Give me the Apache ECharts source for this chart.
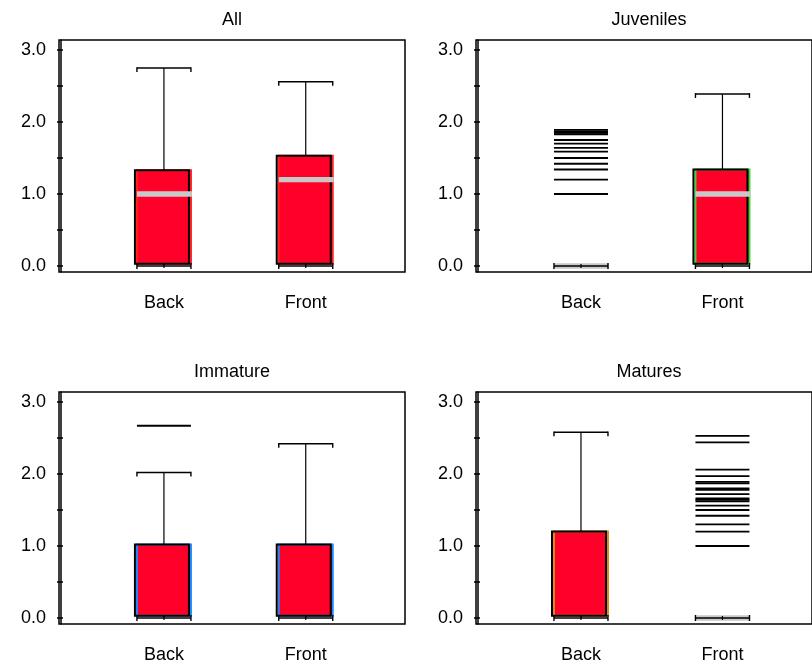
<!DOCTYPE html>
<html>
<head>
<meta charset="utf-8">
<script src="https://cdn.jsdelivr.net/npm/echarts@6/dist/echarts.min.js"></script>
<style>
html,body{margin:0;padding:0;background:#fff;}
#chart{width:812px;height:665px;}
</style>
</head>
<body>
<div id="chart"></div>
<script>
// ---------- data ----------
const categories = ['Back', 'Front'];
const panelTitles = ['All', 'Juveniles', 'Immature', 'Matures'];
const yLabelTicks = [0, 1, 2, 3];
const yMinorTicks = [0, 0.5, 1, 1.5, 2, 2.5, 3];

// All
const allLow = [0, 0];
const allQ1 = [0.03, 0.03];
const allMedian = [1.0, 1.2];
const allQ3 = [1.33, 1.53];
const allHigh = [2.75, 2.56];
const allOutBack = [];
const allOutFront = [];

// Juveniles
const juvLow = [0, 0];
const juvQ1 = [0, 0.03];
const juvMedian = [0, 1.0];
const juvQ3 = [0, 1.34];
const juvHigh = [0, 2.39];
const juvOutBack = [1.0, 1.2, 1.34, 1.42, 1.5, 1.59, 1.64, 1.7, 1.75, 1.83, 1.85, 1.87, 1.89];
const juvOutFront = [];

// Immature
const immLow = [0, 0];
const immQ1 = [0.03, 0.03];
const immMedian = [null, null];
const immQ3 = [1.02, 1.02];
const immHigh = [2.02, 2.42];
const immOutBack = [2.67];
const immOutFront = [];

// Matures
const matLow = [0, 0];
const matQ1 = [0.03, 0];
const matMedian = [null, 0];
const matQ3 = [1.2, 0];
const matHigh = [2.58, 0];
const matOutBack = [];
const matOutFront = [1.0, 1.2, 1.3, 1.42, 1.5, 1.56, 1.62, 1.64, 1.66, 1.72, 1.78, 1.8, 1.87, 1.89, 1.97, 2.06, 2.44, 2.53];

// ---------- styles / layout ----------
const FONT = '"Liberation Sans", Arial, sans-serif';
const FS = 18;
const BOX_RED = '#FF0029';
const MEDIAN_GREY = '#C8C8C8';
const panels = [
  {title: panelTitles[0], low: allLow, q1: allQ1, med: allMedian, q3: allQ3, high: allHigh, out: [allOutBack, allOutFront], edge: '#FF1F1F', left: 59, top: 40, xmin: 0.26, xmax: 2.7},
  {title: panelTitles[1], low: juvLow, q1: juvQ1, med: juvMedian, q3: juvQ3, high: juvHigh, out: [juvOutBack, juvOutFront], edge: '#33DD33', left: 476, top: 40, xmin: 0.258, xmax: 2.633},
  {title: panelTitles[2], low: immLow, q1: immQ1, med: immMedian, q3: immQ3, high: immHigh, out: [immOutBack, immOutFront], edge: '#1E88FF', left: 59, top: 392, xmin: 0.26, xmax: 2.7},
  {title: panelTitles[3], low: matLow, q1: matQ1, med: matMedian, q3: matQ3, high: matHigh, out: [matOutBack, matOutFront], edge: '#D98C1A', left: 476, top: 392, xmin: 0.258, xmax: 2.633}
];
const GH = 232;

function renderBox(edgeColor) {
  return function (params, api) {
    const x = api.value(0);
    const low = api.value(1), q1 = api.value(2), q3 = api.value(4), high = api.value(5);
    const medRaw = api.value(3);
    const hasMed = medRaw !== null && medRaw !== undefined && medRaw !== '-' && !isNaN(medRaw);
    const c = api.coord([x, 0])[0];
    const yLow = api.coord([x, low])[1];
    const yQ1 = api.coord([x, q1])[1];
    const yQ3 = api.coord([x, q3])[1];
    const yHigh = api.coord([x, high])[1];
    const children = [];
    const h = yQ1 - yQ3;
    if (h > 0.5) {
      children.push({type: 'rect', shape: {x: c - 27, y: yQ3, width: 54, height: h},
        style: {fill: BOX_RED, stroke: edgeColor, lineWidth: 2}});
      children.push({type: 'rect', shape: {x: c - 29, y: yQ3, width: 54, height: h},
        style: {fill: null, stroke: '#000', lineWidth: 2}});
    }
    if (hasMed) {
      const yMed = api.coord([x, medRaw])[1];
      children.push({type: 'rect', shape: {x: c - 27, y: yMed - 2.7, width: 55, height: 5.4},
        style: {fill: MEDIAN_GREY}});
    }
    if (yQ3 - yHigh > 0.5) {
      children.push({type: 'line', shape: {x1: c, y1: yQ3, x2: c, y2: yHigh}, style: {stroke: '#000', lineWidth: 1.2}});
      children.push({type: 'line', shape: {x1: c - 27, y1: yHigh, x2: c + 27, y2: yHigh}, style: {stroke: '#000', lineWidth: 1.6}});
      children.push({type: 'line', shape: {x1: c - 27, y1: yHigh - 0.8, x2: c - 27, y2: yHigh + 4}, style: {stroke: '#000', lineWidth: 1.4}});
      children.push({type: 'line', shape: {x1: c + 27, y1: yHigh - 0.8, x2: c + 27, y2: yHigh + 4}, style: {stroke: '#000', lineWidth: 1.4}});
    }
    if (yLow - yQ1 > 0.5) {
      children.push({type: 'line', shape: {x1: c, y1: yQ1, x2: c, y2: yLow}, style: {stroke: '#000', lineWidth: 1.2}});
    }
    children.push({type: 'line', shape: {x1: c - 27, y1: yLow, x2: c + 27, y2: yLow}, style: {stroke: '#000', lineWidth: 1.6}});
    children.push({type: 'line', shape: {x1: c - 27, y1: yLow - 3, x2: c - 27, y2: yLow + 3}, style: {stroke: '#000', lineWidth: 1.4}});
    children.push({type: 'line', shape: {x1: c + 27, y1: yLow - 3, x2: c + 27, y2: yLow + 3}, style: {stroke: '#000', lineWidth: 1.4}});
    children.push({type: 'line', shape: {x1: c, y1: yLow - 2, x2: c, y2: yLow + 2}, style: {stroke: '#000', lineWidth: 1.2}});
    return {type: 'group', children: children};
  };
}

function renderOutlier(params, api) {
  const p = api.coord([api.value(0), api.value(1)]);
  return {type: 'line', shape: {x1: p[0] - 27, y1: p[1], x2: p[0] + 27, y2: p[1]},
    style: {stroke: '#000', lineWidth: 1.8}};
}

const grid = [], xAxis = [], yAxis = [], series = [], graphic = [];
panels.forEach(function (p, i) {
  grid.push({left: p.left, top: p.top, width: 346, height: GH, show: true,
    borderColor: '#000', borderWidth: 1.5, backgroundColor: 'transparent', containLabel: false});
  xAxis.push({type: 'value', gridIndex: i, min: p.xmin, max: p.xmax,
    axisLine: {show: false}, axisTick: {show: false}, splitLine: {show: false},
    axisLabel: {show: true, customValues: [1, 2], margin: 22, color: '#000', fontFamily: FONT, fontSize: FS,
      formatter: function (v) { return categories[Math.round(v) - 1] || ''; }}});
  yAxis.push({type: 'value', gridIndex: i, min: -0.0833, max: 3.139, position: 'left', offset: -2,
    axisLine: {show: true, lineStyle: {color: '#000', width: 1.5}},
    axisTick: {show: true, customValues: yMinorTicks, length: 4, lineStyle: {color: '#000', width: 1.5}},
    axisLabel: {show: true, customValues: yLabelTicks, margin: 15, color: '#000', fontFamily: FONT, fontSize: FS,
      formatter: function (v) { return v.toFixed(1); }},
    splitLine: {show: false}});
  yAxis.push({type: 'value', gridIndex: i, min: -0.0833, max: 3.139, position: 'left', offset: -2,
    axisLine: {show: false},
    axisTick: {show: true, inside: true, customValues: yMinorTicks, length: 2, lineStyle: {color: '#000', width: 1.5}},
    axisLabel: {show: false}, splitLine: {show: false}});

  const boxData = categories.map(function (c, k) {
    return [k + 1, p.low[k], p.q1[k], p.med[k] === null ? '-' : p.med[k], p.q3[k], p.high[k]];
  });
  series.push({type: 'custom', name: p.title + ' box', xAxisIndex: i, yAxisIndex: 2 * i,
    renderItem: renderBox(p.edge), data: boxData, clip: false, silent: true,
    encode: {x: 0, y: [1, 2, 4, 5]}});
  const outData = [];
  p.out.forEach(function (arr, k) { arr.forEach(function (v) { outData.push([k + 1, v]); }); });
  series.push({type: 'custom', name: p.title + ' outliers', xAxisIndex: i, yAxisIndex: 2 * i,
    renderItem: renderOutlier, data: outData, clip: false, silent: true, encode: {x: 0, y: 1}});

  graphic.push({type: 'text', x: p.left + 173, y: p.top - 20,
    style: {text: p.title, fill: '#000', font: FS + 'px ' + FONT, textAlign: 'center', textVerticalAlign: 'middle'}});
});

const chart = echarts.init(document.getElementById('chart'), null, {renderer: 'canvas'});
chart.setOption({
  animation: false,
  backgroundColor: '#fff',
  grid: grid, xAxis: xAxis, yAxis: yAxis, series: series, graphic: graphic
});
</script>
</body>
</html>
